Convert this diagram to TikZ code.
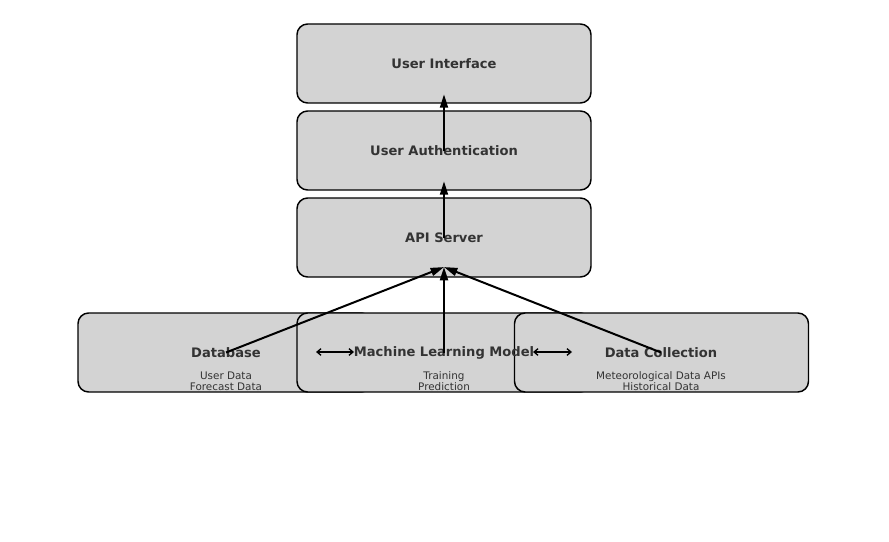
\documentclass[tikz,border=0pt]{standalone}
\usepackage{fontspec}
\setmainfont{DejaVu Sans}
\usetikzlibrary{arrows.meta}
\definecolor{boxgray}{RGB}{211,211,211}
\definecolor{txtgray}{RGB}{51,51,51}
\tikzset{
  layerbox/.style={draw=black,fill=boxgray,line width=1.1pt,rounded corners=8pt,
    minimum width=220.5pt,minimum height=59.25pt,inner sep=0pt},
  title/.style={text=txtgray,font=\fontsize{9.8}{12}\selectfont\bfseries,inner sep=0pt},
  detail/.style={text=txtgray,font=\fontsize{7.8}{8.3}\selectfont,align=center,inner sep=0pt},
  flow/.style={line width=1.5pt,-{Triangle[length=10pt,width=6pt]}},
  link/.style={line width=1pt,{Straight Barb[length=3pt,width=5pt]}-{Straight Barb[length=3pt,width=5pt]}}
}
\begin{document}
\begin{tikzpicture}[x=0.75pt,y=-0.75pt]
 \useasboundingbox (0,0) rectangle (889,542);
 % layers
 \path 	(444,63.5) 	node[layerbox] (ui) {}
 	(444,150.5) 	node[layerbox] (ua) {}
 	(444,237.5) 	node[layerbox] (api) {}
 	(225,352.5) 	node[layerbox] (db) {}
 	(444,352.5) 	node[layerbox] (ml) {}
 	(661.5,352.5) 	node[layerbox] (dc) {};
 % texts
 \path 	(ui.center) 	node[title] (uit) {User Interface}
 	(ua.center) 	node[title] (uat) {User Authentication}
 	(api.center) 	node[title] (apit) {API Server}
 	(226,352.5) 	node[title] (dbt) {Database}
 	(444,352.5) 	node[title] (mlt) {Machine Learning Model}
 	(661,352.5) 	node[title] (dct) {Data Collection}
 	(226,381) 	node[detail] {User Data\\Forecast Data}
 	(444,381) 	node[detail] {Training\\Prediction}
 	(661,381) 	node[detail] {Meteorological Data APIs\\Historical Data};
 \coordinate (l1) at (316,352);
 \coordinate (r1) at (354,352);
 \coordinate (l2) at (533,352);
 \coordinate (r2) at (572,352);
 % arrows
 \draw[flow] (uat.center) -- ([yshift=7pt]ui.south);
 \draw[flow] (apit.center) -- ([yshift=7pt]ua.south);
 \draw[flow] (dbt.center) -- ([yshift=8pt]api.south);
 \draw[flow] (mlt.center) -- ([yshift=8pt]api.south);
 \draw[flow] (dct.center) -- ([yshift=8pt]api.south);
 \draw[link] (l1) -- (r1);
 \draw[link] (l2) -- (r2);
\end{tikzpicture}
\end{document}
